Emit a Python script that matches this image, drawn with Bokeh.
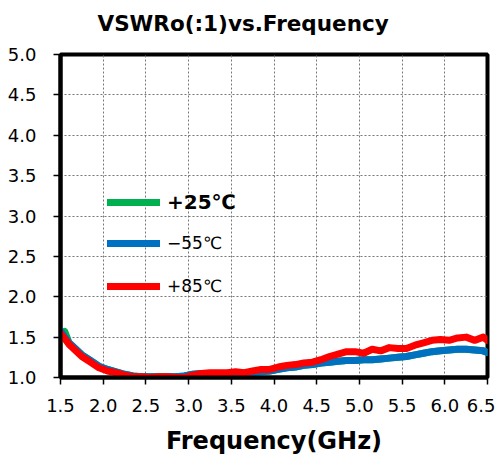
from bokeh.plotting import figure
from bokeh.models import (Range1d, FixedTicker, NumeralTickFormatter, Legend, LegendItem, Title)
from bokeh.embed import file_html
from bokeh.resources import INLINE

freq = [1.50, 1.55, 1.60, 1.65, 1.75, 1.85, 1.95, 2.05, 2.15, 2.25, 2.35, 2.45,
        2.55, 2.65, 2.75, 2.85, 2.95, 3.05, 3.15, 3.25, 3.35, 3.45, 3.55, 3.65,
        3.75, 3.85, 3.95, 4.05, 4.15, 4.25, 4.35, 4.45, 4.55, 4.65, 4.75, 4.85,
        4.95, 5.05, 5.15, 5.25, 5.35, 5.45, 5.55, 5.65, 5.75, 5.85, 5.95, 6.05,
        6.15, 6.25, 6.35, 6.45, 6.50]

vswr_p85 = [1.55, 1.48, 1.41, 1.36, 1.26, 1.19, 1.12, 1.08, 1.06, 1.03, 1.01, 1.01,
            1.00, 1.01, 1.01, 1.00, 1.00, 1.03, 1.05, 1.06, 1.06, 1.06, 1.07, 1.06,
            1.08, 1.10, 1.10, 1.13, 1.15, 1.16, 1.18, 1.19, 1.22, 1.26, 1.29, 1.32,
            1.32, 1.30, 1.35, 1.33, 1.37, 1.36, 1.36, 1.40, 1.43, 1.46, 1.47, 1.46,
            1.49, 1.50, 1.46, 1.50, 1.46]

vswr_m55 = [1.58, 1.50, 1.43, 1.38, 1.28, 1.21, 1.14, 1.10, 1.07, 1.04, 1.02, 1.01,
            1.01, 1.01, 1.01, 1.01, 1.02, 1.04, 1.05, 1.05, 1.05, 1.05, 1.05, 1.05,
            1.06, 1.07, 1.08, 1.10, 1.12, 1.13, 1.15, 1.16, 1.18, 1.19, 1.20, 1.21,
            1.21, 1.22, 1.22, 1.23, 1.24, 1.25, 1.26, 1.28, 1.30, 1.32, 1.33, 1.34,
            1.35, 1.35, 1.34, 1.33, 1.31]

vswr_p25 = [1.50, 1.57, 1.43, 1.38, 1.28, 1.21, 1.14, 1.10, 1.07, 1.04, 1.02, 1.01,
            1.01, 1.01, 1.01, 1.01, 1.02, 1.04, 1.05, 1.05, 1.05, 1.05, 1.05, 1.05,
            1.06, 1.07, 1.08, 1.10, 1.12, 1.13, 1.15, 1.16, 1.18, 1.19, 1.20, 1.21,
            1.21, 1.22, 1.22, 1.23, 1.24, 1.25, 1.26, 1.28, 1.30, 1.32, 1.33, 1.34,
            1.35, 1.35, 1.34, 1.33, 1.31]

x_ticks = [1.5, 2.0, 2.5, 3.0, 3.5, 4.0, 4.5, 5.0, 5.5, 6.0, 6.5]
y_ticks = [1.0, 1.5, 2.0, 2.5, 3.0, 3.5, 4.0, 4.5, 5.0]

title_text = "VSWRo(:1)vs.Frequency"
labels = ["+25℃", "−55℃", "+85℃"]
colors = ["#00B050", "#0070C0", "#FF0000"]

FONT = "DejaVu Sans"

p = figure(width=495, height=461, output_backend="svg", toolbar_location=None,
           x_range=Range1d(1.5, 6.5), y_range=Range1d(1.0, 5.0),
           min_border_left=60, min_border_right=8, min_border_top=54, min_border_bottom=84,
           title=None)

spacer = Title(text=" ", text_font_size="6px", standoff=3)
main_title = Title(text=title_text, text_font=FONT, text_font_size="21.5px",
                   text_font_style="bold", align="left", vertical_align="top",
                   offset=37, standoff=12, text_color="black")
p.add_layout(spacer, "above")
p.add_layout(main_title, "above")

p.outline_line_color = "black"
p.outline_line_width = 4
p.background_fill_color = "white"
p.border_fill_color = "white"

for ax in (p.xaxis[0], p.yaxis[0]):
    ax.axis_line_color = "black"
    ax.axis_line_width = 4
    ax.major_tick_out = 7
    ax.major_tick_in = 0
    ax.minor_tick_line_color = None
    ax.major_tick_line_color = "black"
    ax.major_tick_line_width = 1.5
    ax.major_label_text_font = FONT
    ax.major_label_text_font_size = "18px"
    ax.major_label_text_color = "black"
    ax.formatter = NumeralTickFormatter(format="0.0")

p.xaxis.ticker = FixedTicker(ticks=x_ticks)
p.yaxis.ticker = FixedTicker(ticks=y_ticks)
p.xaxis.major_label_standoff = 14
p.yaxis.major_label_standoff = 17

p.xaxis.axis_label = "Frequency(GHz)"
p.xaxis.axis_label_text_font = FONT
p.xaxis.axis_label_text_font_size = "24px"
p.xaxis.axis_label_text_font_style = "bold"
p.xaxis.axis_label_text_color = "black"
p.xaxis.axis_label_standoff = 12

p.xgrid.ticker = FixedTicker(ticks=x_ticks)
p.ygrid.ticker = FixedTicker(ticks=y_ticks)
for g in (p.xgrid[0], p.ygrid[0]):
    g.grid_line_color = "#777777"
    g.grid_line_dash = "2 2"
    g.grid_line_width = 1

r25 = p.line(freq, vswr_p25, line_color=colors[0], line_width=7, line_cap="round", line_join="round")
r55 = p.line(freq, vswr_m55, line_color=colors[1], line_width=7, line_cap="round", line_join="round")
r85 = p.line(freq, vswr_p85, line_color=colors[2], line_width=7, line_cap="round", line_join="round")

common = dict(padding=0, margin=0, border_line_color=None, background_fill_alpha=0,
              glyph_width=53, glyph_height=20, label_height=20, label_standoff=7,
              label_text_font=FONT, label_text_color="black")

leg1 = Legend(items=[LegendItem(label=labels[0], renderers=[r25])],
              location=(47, 163), label_text_font_size="20px",
              label_text_font_style="bold", **common)
leg2 = Legend(items=[LegendItem(label=labels[1], renderers=[r55]),
                     LegendItem(label=labels[2], renderers=[r85])],
              location=(47, 81), label_text_font_size="17px", spacing=23, **common)
p.add_layout(leg1)
p.add_layout(leg2)

open("out.html", "w").write(file_html(p, INLINE))
